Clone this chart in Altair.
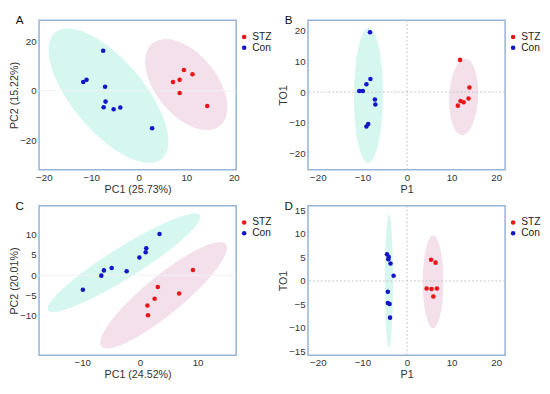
import altair as alt
import numpy as np
import pandas as pd

RED = "#e8151b"
BLUE = "#1414c8"
FILL_CON = "#d6f7ef"
FILL_STZ = "#f3e0ea"
FONT = "Liberation Sans"

# ---------------- data ----------------
# Panel A : PCA
A_con_x = [-7.5, -11.7, -11.0, -7.1, -7.0, -7.4, -5.3, -3.9, 2.8]
A_con_y = [16.2, 3.5, 4.4, 1.6, -4.4, -6.7, -7.5, -6.8, -15.2]
A_stz_x = [9.5, 11.3, 7.2, 8.6, 8.6, 14.4]
A_stz_y = [8.4, 6.7, 3.5, 4.4, -0.9, -6.2]
# Panel B : OPLS-DA
B_con_x = [-8.3, -8.2, -9.1, -10.7, -9.9, -7.2, -7.1, -8.7, -9.1]
B_con_y = [19.5, 4.3, 2.6, 0.4, 0.4, -2.4, -4.0, -10.4, -11.2]
B_stz_x = [11.9, 14.0, 13.8, 12.0, 12.7, 11.4]
B_stz_y = [10.5, 1.5, -2.1, -2.9, -3.3, -4.4]
# Panel C : PCA
C_con_x = [-9.9, -6.7, -6.25, -4.9, -2.3, -0.1, 1.0, 1.1, 3.4]
C_con_y = [-3.6, -0.1, 1.2, 1.8, 1.0, 4.4, 5.7, 6.7, 10.2]
C_stz_x = [9.2, 3.1, 6.8, 2.55, 1.3, 1.4]
C_stz_y = [1.3, -2.9, -4.5, -5.8, -7.5, -9.9]
# Panel D : OPLS-DA
D_con_x = [-4.5, -4.1, -4.2, -3.7, -3.0, -4.3, -4.3, -3.9, -3.8]
D_con_y = [5.7, 5.1, 4.6, 3.7, 1.1, -2.3, -4.7, -4.9, -7.8]
D_stz_x = [5.4, 6.4, 4.4, 5.5, 6.7, 5.9]
D_stz_y = [4.5, 3.9, -1.6, -1.7, -1.6, -3.3]

# confidence ellipses: centre x, centre y, half-width, half-height, correlation
A_con_ell = (-6.4, -2.0, 12.6, 27.2, -0.68)
A_stz_ell = (10.0, 2.5, 8.65, 18.4, -0.5)
B_con_ell = (-8.65, -1.0, 3.25, 22.0, 0.02)
B_stz_ell = (12.7, -1.55, 3.25, 12.45, 0.1)
C_con_ell = (-2.75, 3.1, 13.25, 12.2, 0.93)
C_stz_ell = (4.1, -4.95, 11.0, 13.15, 0.89)
D_con_ell = (-4.05, 0.0, 0.9, 14.2, 0.0)
D_stz_ell = (5.85, -0.15, 2.3, 9.85, 0.0)

GROUPS = ["STZ", "Con"]
W, H = 203, 154


def ellipse_df(params):
    cx, cy, sx, sy, rho = params
    t = np.linspace(0, np.pi, 241)
    u = np.cos(t)
    mid = cy + rho * sy * u
    half = sy * np.sqrt(1 - rho ** 2) * np.sqrt(np.clip(1 - u ** 2, 0, None))
    return pd.DataFrame({"x": cx + sx * u, "y": mid + half, "y2": mid - half})


def panel(letter, con_x, con_y, stz_x, stz_y, con_ell, stz_ell,
          xdom, ydom, xticks, yticks, xtitle, ytitle, zero_x, zero_y, zero_style):
    pts = pd.DataFrame({
        "x": stz_x + con_x,
        "y": stz_y + con_y,
        "group": ["STZ"] * len(stz_x) + ["Con"] * len(con_x),
    })
    xenc = alt.X("x:Q", title=xtitle,
                 scale=alt.Scale(domain=xdom, nice=False, zero=False),
                 axis=alt.Axis(values=xticks, format="d", titlePadding=1))
    yenc = alt.Y("y:Q", title=ytitle,
                 scale=alt.Scale(domain=ydom, nice=False, zero=False),
                 axis=alt.Axis(values=yticks, format="d", titlePadding=0))
    layers = []
    for params, fill in ((con_ell, FILL_CON), (stz_ell, FILL_STZ)):
        layers.append(
            alt.Chart(ellipse_df(params)).mark_area(
                color=fill, opacity=1, orient="vertical", clip=True
            ).encode(x=xenc, y=yenc, y2="y2:Q")
        )
    if zero_style == "dash":
        rkw = dict(color="#c4c4c4", strokeDash=[2, 2], strokeWidth=1)
    else:
        rkw = dict(color="#f1f1f1", strokeWidth=1)
    zdf = pd.DataFrame({"x": [zero_x if zero_x is not None else 0],
                        "y": [zero_y if zero_y is not None else 0]})
    if zero_x is not None:
        layers.append(alt.Chart(zdf).mark_rule(**rkw).encode(x=xenc))
    if zero_y is not None:
        layers.append(alt.Chart(zdf).mark_rule(**rkw).encode(y=yenc))
    layers.append(
        alt.Chart(pts).mark_circle(size=22, opacity=1).encode(
            x=xenc, y=yenc,
            color=alt.Color("group:N",
                            scale=alt.Scale(domain=GROUPS, range=[RED, BLUE]),
                            legend=alt.Legend(title=None, orient="none",
                                              legendX=W + 3, legendY=12,
                                              symbolType="circle", symbolSize=22,
                                              labelFontSize=10.5, rowPadding=0,
                                              labelOffset=3, padding=0,
                                              labelColor="#222"))
        )
    )
    layers.append(
        alt.Chart(pd.DataFrame({"t": [letter]})).mark_text(
            fontSize=12, baseline="middle", align="center", color="#111"
        ).encode(text="t:N", x=alt.value(-20), y=alt.value(0))
    )
    return alt.layer(*layers).properties(width=W, height=H)


pA = panel("A", A_con_x, A_con_y, A_stz_x, A_stz_y, A_con_ell, A_stz_ell,
           [-21, 20.5], [-32, 28.5], [-20, -10, 0, 10, 20], [-20, 0, 20],
           "PC1 (25.73%)", "PC2 (15.22%)", None, 0, "solid")
pB = panel("B", B_con_x, B_con_y, B_stz_x, B_stz_y, B_con_ell, B_stz_ell,
           [-22.2, 22], [-25.3, 23.4], [-20, -10, 0, 10, 20], [-20, -10, 0, 10, 20],
           "P1", "TO1", 0, 0, "dash")
pC = panel("C", C_con_x, C_con_y, C_stz_x, C_stz_y, C_con_ell, C_stz_ell,
           [-17.5, 16.7], [-19.8, 17.2], [-10, 0, 10], [-10, -5, 0, 5, 10],
           "PC1 (24.52%)", "PC2 (20.01%)", None, 0, "solid")
pD = panel("D", D_con_x, D_con_y, D_stz_x, D_stz_y, D_con_ell, D_stz_ell,
           [-22.2, 22], [-15.8, 16], [-20, -10, 0, 10, 20],
           [-15, -10, -5, 0, 5, 10, 15], "P1", "TO1", 0, 0, "dash")

row1 = alt.hconcat(pA, pB, spacing=4).resolve_scale(color="independent").resolve_legend(color="independent")
row2 = alt.hconcat(pC, pD, spacing=4).resolve_scale(color="independent").resolve_legend(color="independent")

chart = (
    alt.vconcat(row1, row2, spacing=4)
    .resolve_scale(color="independent")
    .resolve_legend(color="independent")
    .properties(padding=0)
    .configure(font=FONT)
    .configure_view(stroke="#98b6d8", strokeWidth=1.6)
    .configure_axis(labelFontSize=10, titleFontSize=11, ticks=False, tickSize=0,
                    domain=False, grid=False, labelColor="#333", titleColor="#333",
                    titleFontWeight="normal", labelPadding=3,
                    labelOverlap=False)
)

chart.save("out.html", embed_options={"renderer": "svg", "actions": False})
